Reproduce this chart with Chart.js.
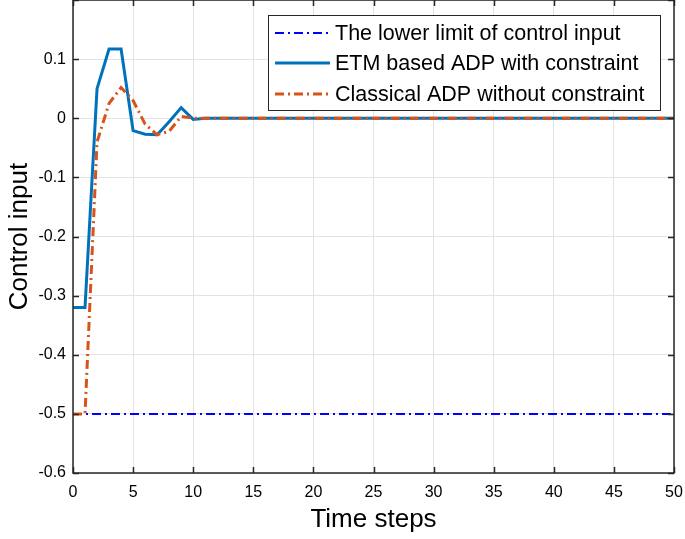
<!DOCTYPE html>
<html>
<head>
<meta charset="utf-8">
<script src="https://cdn.jsdelivr.net/npm/chart.js@4/dist/chart.umd.min.js"></script>
<style>
  html, body { margin: 0; padding: 0; background: #fff; }
  #wrap { width: 685px; height: 539px; }
</style>
</head>
<body>
<div id="wrap"><canvas id="myChart" width="685" height="539"></canvas></div>
<script>
// time steps 0..50
const steps = [0,1,2,3,4,5,6,7,8,9,10,11,12,13,14,15,16,17,18,19,20,21,22,23,24,25,26,27,28,29,30,31,32,33,34,35,36,37,38,39,40,41,42,43,44,45,46,47,48,49,50]
const lowerLimit = [-0.5,-0.5,-0.5,-0.5,-0.5,-0.5,-0.5,-0.5,-0.5,-0.5,-0.5,-0.5,-0.5,-0.5,-0.5,-0.5,-0.5,-0.5,-0.5,-0.5,-0.5,-0.5,-0.5,-0.5,-0.5,-0.5,-0.5,-0.5,-0.5,-0.5,-0.5,-0.5,-0.5,-0.5,-0.5,-0.5,-0.5,-0.5,-0.5,-0.5,-0.5,-0.5,-0.5,-0.5,-0.5,-0.5,-0.5,-0.5,-0.5,-0.5,-0.5]
const etmADP = [-0.32,-0.32,0.05,0.117,0.117,-0.021,-0.027,-0.028,-0.006,0.018,-0.002,0,0,0,0,0,0,0,0,0,0,0,0,0,0,0,0,0,0,0,0,0,0,0,0,0,0,0,0,0,0,0,0,0,0,0,0,0,0,0,0]
const classicalADP = [-0.5,-0.5,-0.04,0.025,0.052,0.03,-0.01,-0.028,-0.022,0.003,0,0,0,0,0,0,0,0,0,0,0,0,0,0,0,0,0,0,0,0,0,0,0,0,0,0,0,0,0,0,0,0,0,0,0,0,0,0,0,0,0]
const xTicks = [0,5,10,15,20,25,30,35,40,45,50]
const yTicks = [-0.6,-0.5,-0.4,-0.3,-0.2,-0.1,0,0.1,0.2]

const FONT = "'Liberation Sans', Arial, sans-serif"
const AXIS_COLOR = '#262626'

function pts(ys) {
    return steps.map((x, i) => ({ x: x, y: ys[i] }))
}

// MATLAB style box: inward ticks on all four sides
const boxPlugin = {
    id: 'box',
    afterDatasetsDraw(chart) {
        const { ctx, chartArea: a, scales } = chart
        ctx.save()
        ctx.strokeStyle = AXIS_COLOR
        ctx.lineWidth = 1.5
        xTicks.forEach(v => {
            const px = Math.round(scales.x.getPixelForValue(v)) + 0.5
            ctx.beginPath()
            ctx.moveTo(px, a.bottom); ctx.lineTo(px, a.bottom - 6)
            ctx.moveTo(px, a.top); ctx.lineTo(px, a.top + 6)
            ctx.stroke()
        })
        yTicks.forEach(v => {
            const py = Math.round(scales.y.getPixelForValue(v)) + 0.5
            ctx.beginPath()
            ctx.moveTo(a.left, py); ctx.lineTo(a.left + 6, py)
            ctx.moveTo(a.right, py); ctx.lineTo(a.right - 6, py)
            ctx.stroke()
        })
        ctx.strokeRect(a.left, a.top, a.right - a.left, a.bottom - a.top)
        ctx.restore()
    }
}

// legend drawn inside the axes, top right
const legendPlugin = {
    id: 'insideLegend',
    afterDraw(chart) {
        const ctx = chart.ctx
        const x0 = 268, y0 = 15, w = 392, h = 95
        ctx.save()
        ctx.fillStyle = '#fff'
        ctx.fillRect(x0, y0, w, h)
        ctx.strokeStyle = AXIS_COLOR
        ctx.lineWidth = 1
        ctx.strokeRect(x0 + 0.5, y0 + 0.5, w, h)
        const rows = [33, 63, 94]
        chart.data.datasets.forEach((ds, i) => {
            const y = rows[i]
            ctx.beginPath()
            ctx.strokeStyle = ds.borderColor
            ctx.lineWidth = ds.borderWidth
            ctx.setLineDash(ds.borderDash || [])
            ctx.moveTo(275, y); ctx.lineTo(330, y)
            ctx.stroke()
            ctx.setLineDash([])
            ctx.fillStyle = '#000'
            ctx.font = '21.5px ' + FONT
            ctx.textBaseline = 'middle'
            ctx.fillText(ds.label, 335, y + 1)
        })
        ctx.restore()
    }
}

const ctx = document.getElementById('myChart').getContext('2d')
const myChart = new Chart(ctx, {
    type: 'line',
    data: {
        datasets: [
            {
                label: 'The lower limit of control input',
                data: pts(lowerLimit),
                borderColor: '#0000ff',
                borderWidth: 2,
                borderDash: [9, 4, 2, 4],
                pointRadius: 0,
                order: 2
            },
            {
                label: 'ETM based ADP with constraint',
                data: pts(etmADP),
                borderColor: '#0072bd',
                borderWidth: 3,
                pointRadius: 0,
                order: 1
            },
            {
                label: 'Classical ADP without constraint',
                data: pts(classicalADP),
                borderColor: '#d95319',
                borderWidth: 3,
                borderDash: [9, 4, 2, 4],
                pointRadius: 0,
                order: 0
            }
        ]
    },
    options: {
        responsive: false,
        animation: false,
        layout: { padding: { top: 0, right: 11, left: 0, bottom: 0 } },
        plugins: {
            legend: { display: false },
            tooltip: { enabled: false }
        },
        scales: {
            x: {
                type: 'linear',
                min: 0,
                max: 50,
                afterBuildTicks: s => { s.ticks = xTicks.map(v => ({ value: v })) },
                afterFit: s => { s.height = 66; s.paddingLeft = 0; s.paddingRight = 0 },
                grid: { color: '#e3e3e3', lineWidth: 1, drawTicks: false },
                border: { display: false },
                ticks: { color: '#000', font: { family: FONT, size: 16 }, padding: 10, maxRotation: 0 },
                title: { display: true, text: 'Time steps', color: '#000', font: { family: FONT, size: 26 }, padding: { top: 6 } }
            },
            y: {
                min: -0.6,
                max: 0.2,
                afterBuildTicks: s => { s.ticks = yTicks.map(v => ({ value: v })) },
                afterFit: s => { s.width = 73; s.paddingTop = 0; s.paddingBottom = 0 },
                grid: { color: '#e3e3e3', lineWidth: 1, drawTicks: false },
                border: { display: false },
                ticks: {
                    color: '#000',
                    font: { family: FONT, size: 16 },
                    padding: 7,
                    callback: v => (Math.abs(v - 0.2) < 1e-9 ? '' : (Math.abs(v) < 1e-9 ? '0' : v.toFixed(1)))
                },
                title: { display: true, text: 'Control input', color: '#000', font: { family: FONT, size: 26 }, padding: { bottom: 2 } }
            }
        }
    },
    plugins: [boxPlugin, legendPlugin]
})
</script>
</body>
</html>
